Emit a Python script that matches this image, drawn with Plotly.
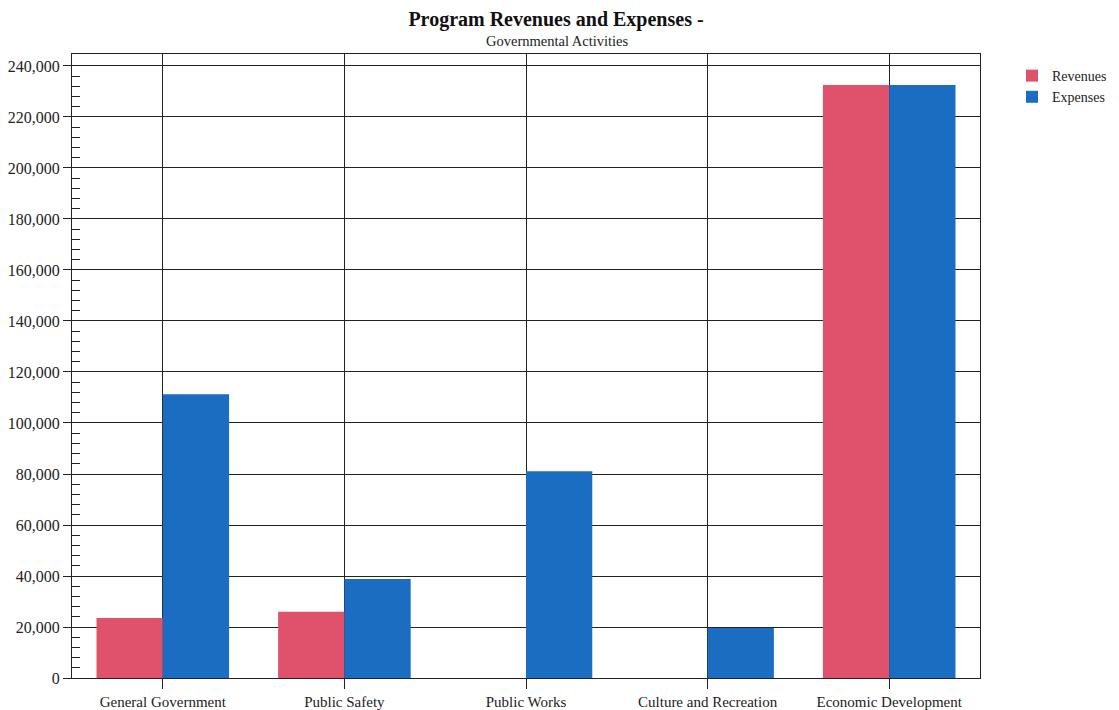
import plotly.graph_objects as go

categories = ["General Government", "Public Safety", "Public Works",
              "Culture and Recreation", "Economic Development"]
revenues = [23500, 26000, 0, 0, 232500]
expenses = [111300, 38800, 81100, 19600, 232500]
y_ticks = list(range(0, 240001, 20000))
y_labels = [f"{v:,}" for v in y_ticks]
y_minor = [v for v in range(4000, 240000, 4000) if v % 20000]

# page has an 8px body margin, so the figure is offset by 8px
OFF = 8
W, H = 1119 - OFF, 710 - OFF
ML, MT, PW, PH = 72 - OFF, 54 - OFF, 908, 624
MR, MB = W - ML - PW, H - MT - PH

fig = go.Figure()
fig.add_trace(go.Bar(name="Revenues", x=categories, y=revenues,
                     marker=dict(color="#E0516B", line=dict(width=0))))
fig.add_trace(go.Bar(name="Expenses", x=categories, y=expenses,
                     marker=dict(color="#1B6DC1", line=dict(width=0))))

font_family = "Liberation Serif"
fig.update_layout(
    width=W, height=H,
    margin=dict(l=ML, r=MR, t=MT, b=MB, autoexpand=False),
    paper_bgcolor="white", plot_bgcolor="white",
    barmode="group", bargap=0.27, bargroupgap=0,
    font=dict(family=font_family, size=15, color="#222"),
    showlegend=True,
    legend=dict(x=(1012 - OFF) / W, y=1 - (60 - OFF) / H,
                xref="container", yref="container",
                xanchor="left", yanchor="top",
                font=dict(size=14, family=font_family),
                bgcolor="rgba(0,0,0,0)", itemwidth=30, tracegroupgap=2),
    title=dict(text="<b>Program Revenues and Expenses -</b>", x=(556 - OFF) / W,
               xanchor="center", y=1 - (19 - OFF) / H, yanchor="middle",
               xref="container", yref="container",
               font=dict(size=20, family=font_family, color="#111")),
)
fig.add_annotation(text="Governmental Activities",
                   x=(557 - 72) / PW, y=(678 - 41) / PH,
                   xref="paper", yref="paper", showarrow=False,
                   xanchor="center", yanchor="middle",
                   font=dict(size=14.5, family=font_family, color="#222"))

fig.update_xaxes(
    range=[-0.5, 4.5], showgrid=True, gridcolor="#222", gridwidth=1,
    ticks="outside", ticklen=10, tickcolor="#222", tickwidth=1,
    showline=True, linecolor="#222", linewidth=1, mirror=True,
    tickfont=dict(size=15, family=font_family), automargin=False,
)
fig.update_yaxes(
    range=[0, 244700], tickvals=y_ticks, ticktext=y_labels,
    showgrid=True, gridcolor="#222", gridwidth=1,
    ticks="outside", ticklen=8, tickcolor="#222", tickwidth=1,
    showline=True, linecolor="#222", linewidth=1, mirror=True,
    zeroline=False, automargin=False,
    minor=dict(tickmode="array", tickvals=y_minor, ticks="inside", ticklen=8,
               tickcolor="#222", showgrid=False),
    tickfont=dict(size=16, family=font_family),
)

fig.write_html("out.html")
